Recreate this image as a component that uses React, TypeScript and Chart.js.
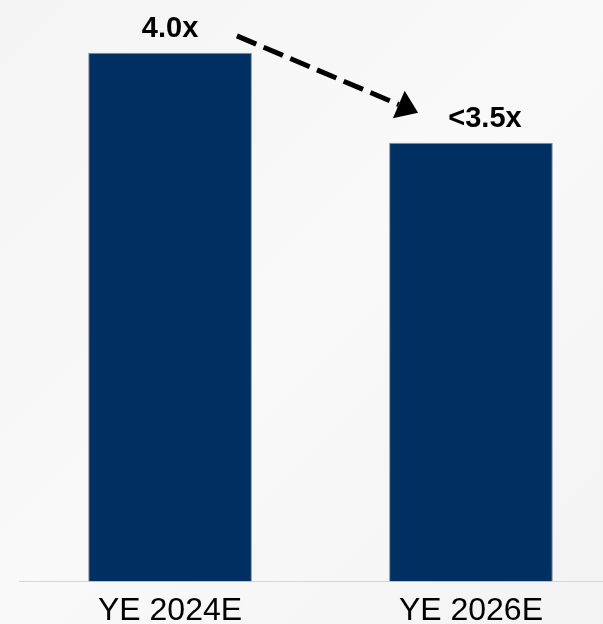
import React, { useEffect, useRef } from "react";
import { Chart, registerables } from "chart.js";

Chart.register(...registerables);

const categories = ["YE 2024E", "YE 2026E"];
const leverage = [4.0, 3.32];
const dataLabels = ["4.0x", "<3.5x"];

const annotPlugin = {
  id: "annot",
  afterDatasetsDraw(chart: any) {
    const ctx = chart.ctx as CanvasRenderingContext2D;
    const meta = chart.getDatasetMeta(0);
    const b1 = meta.data[0] as any;
    const b2 = meta.data[1] as any;
    ctx.save();
    ctx.fillStyle = "#000";
    ctx.font = 'bold 29px "Liberation Sans", Arial, sans-serif';
    ctx.textAlign = "center";
    ctx.textBaseline = "alphabetic";
    dataLabels.forEach((t, i) => {
      const b = meta.data[i] as any;
      const dx = i === 1 ? 14 : 0;
      ctx.fillText(t, b.x + dx, b.y - 16);
    });
    // dashed arrow
    const x0 = b1.x + b1.width / 2 - 15;
    const y0 = b1.y - 17;
    const tx = b2.x - b2.width / 2 + 29;
    const ty = b2.y - 30;
    const ang = Math.atan2(ty - y0, tx - x0);
    const headLen = 21;
    const headHalf = 15;
    const bx = tx - headLen * Math.cos(ang);
    const by = ty - headLen * Math.sin(ang);
    ctx.strokeStyle = "#000";
    ctx.lineWidth = 5;
    ctx.setLineDash([21, 8]);
    ctx.lineCap = "butt";
    ctx.beginPath();
    ctx.moveTo(x0, y0);
    ctx.lineTo(bx, by);
    ctx.stroke();
    ctx.setLineDash([]);
    const px = -Math.sin(ang);
    const py = Math.cos(ang);
    ctx.beginPath();
    ctx.moveTo(tx, ty);
    ctx.lineTo(bx + px * headHalf, by + py * headHalf);
    ctx.lineTo(bx - px * headHalf, by - py * headHalf);
    ctx.closePath();
    ctx.fill();
    ctx.restore();
  },
};

export default function App() {
  const ref = useRef<HTMLCanvasElement | null>(null);
  useEffect(() => {
    if (!ref.current) return;
    const chart = new Chart(ref.current, {
      type: "bar",
      data: {
        labels: categories,
        datasets: [
          {
            data: leverage,
            backgroundColor: "#002F61",
            borderColor: "#8a8f98",
            borderWidth: 1,
            categoryPercentage: 1,
            barPercentage: 0.544,
          },
        ],
      },
      options: {
        responsive: false,
        animation: false,
        layout: { padding: { left: 19.6, right: 18.6, top: 0, bottom: 0 } },
        plugins: {
          legend: { display: false },
          tooltip: { enabled: false },
        },
        scales: {
          x: {
            grid: { display: false, drawTicks: false },
            border: { display: true, color: "#d6d6d6", width: 1 },
            ticks: {
              color: "#000",
              padding: 10,
              font: { family: '"Liberation Sans", Arial, sans-serif', size: 32 },
            },
          },
          y: {
            display: false,
            min: 0,
            max: 4.4,
          },
        },
      },
      plugins: [annotPlugin],
    });
    return () => chart.destroy();
  }, []);
  return (
    <div
      style={{
        position: "fixed",
        left: 0,
        top: 0,
        width: 603,
        height: 624,
        overflow: "hidden",
        background: "linear-gradient(135deg, #f4f4f4 0%, #f9f9f9 50%, #f3f3f3 100%)",
      }}
    >
      <canvas ref={ref} width={640} height={640} style={{ display: "block" }} />
    </div>
  );
}
